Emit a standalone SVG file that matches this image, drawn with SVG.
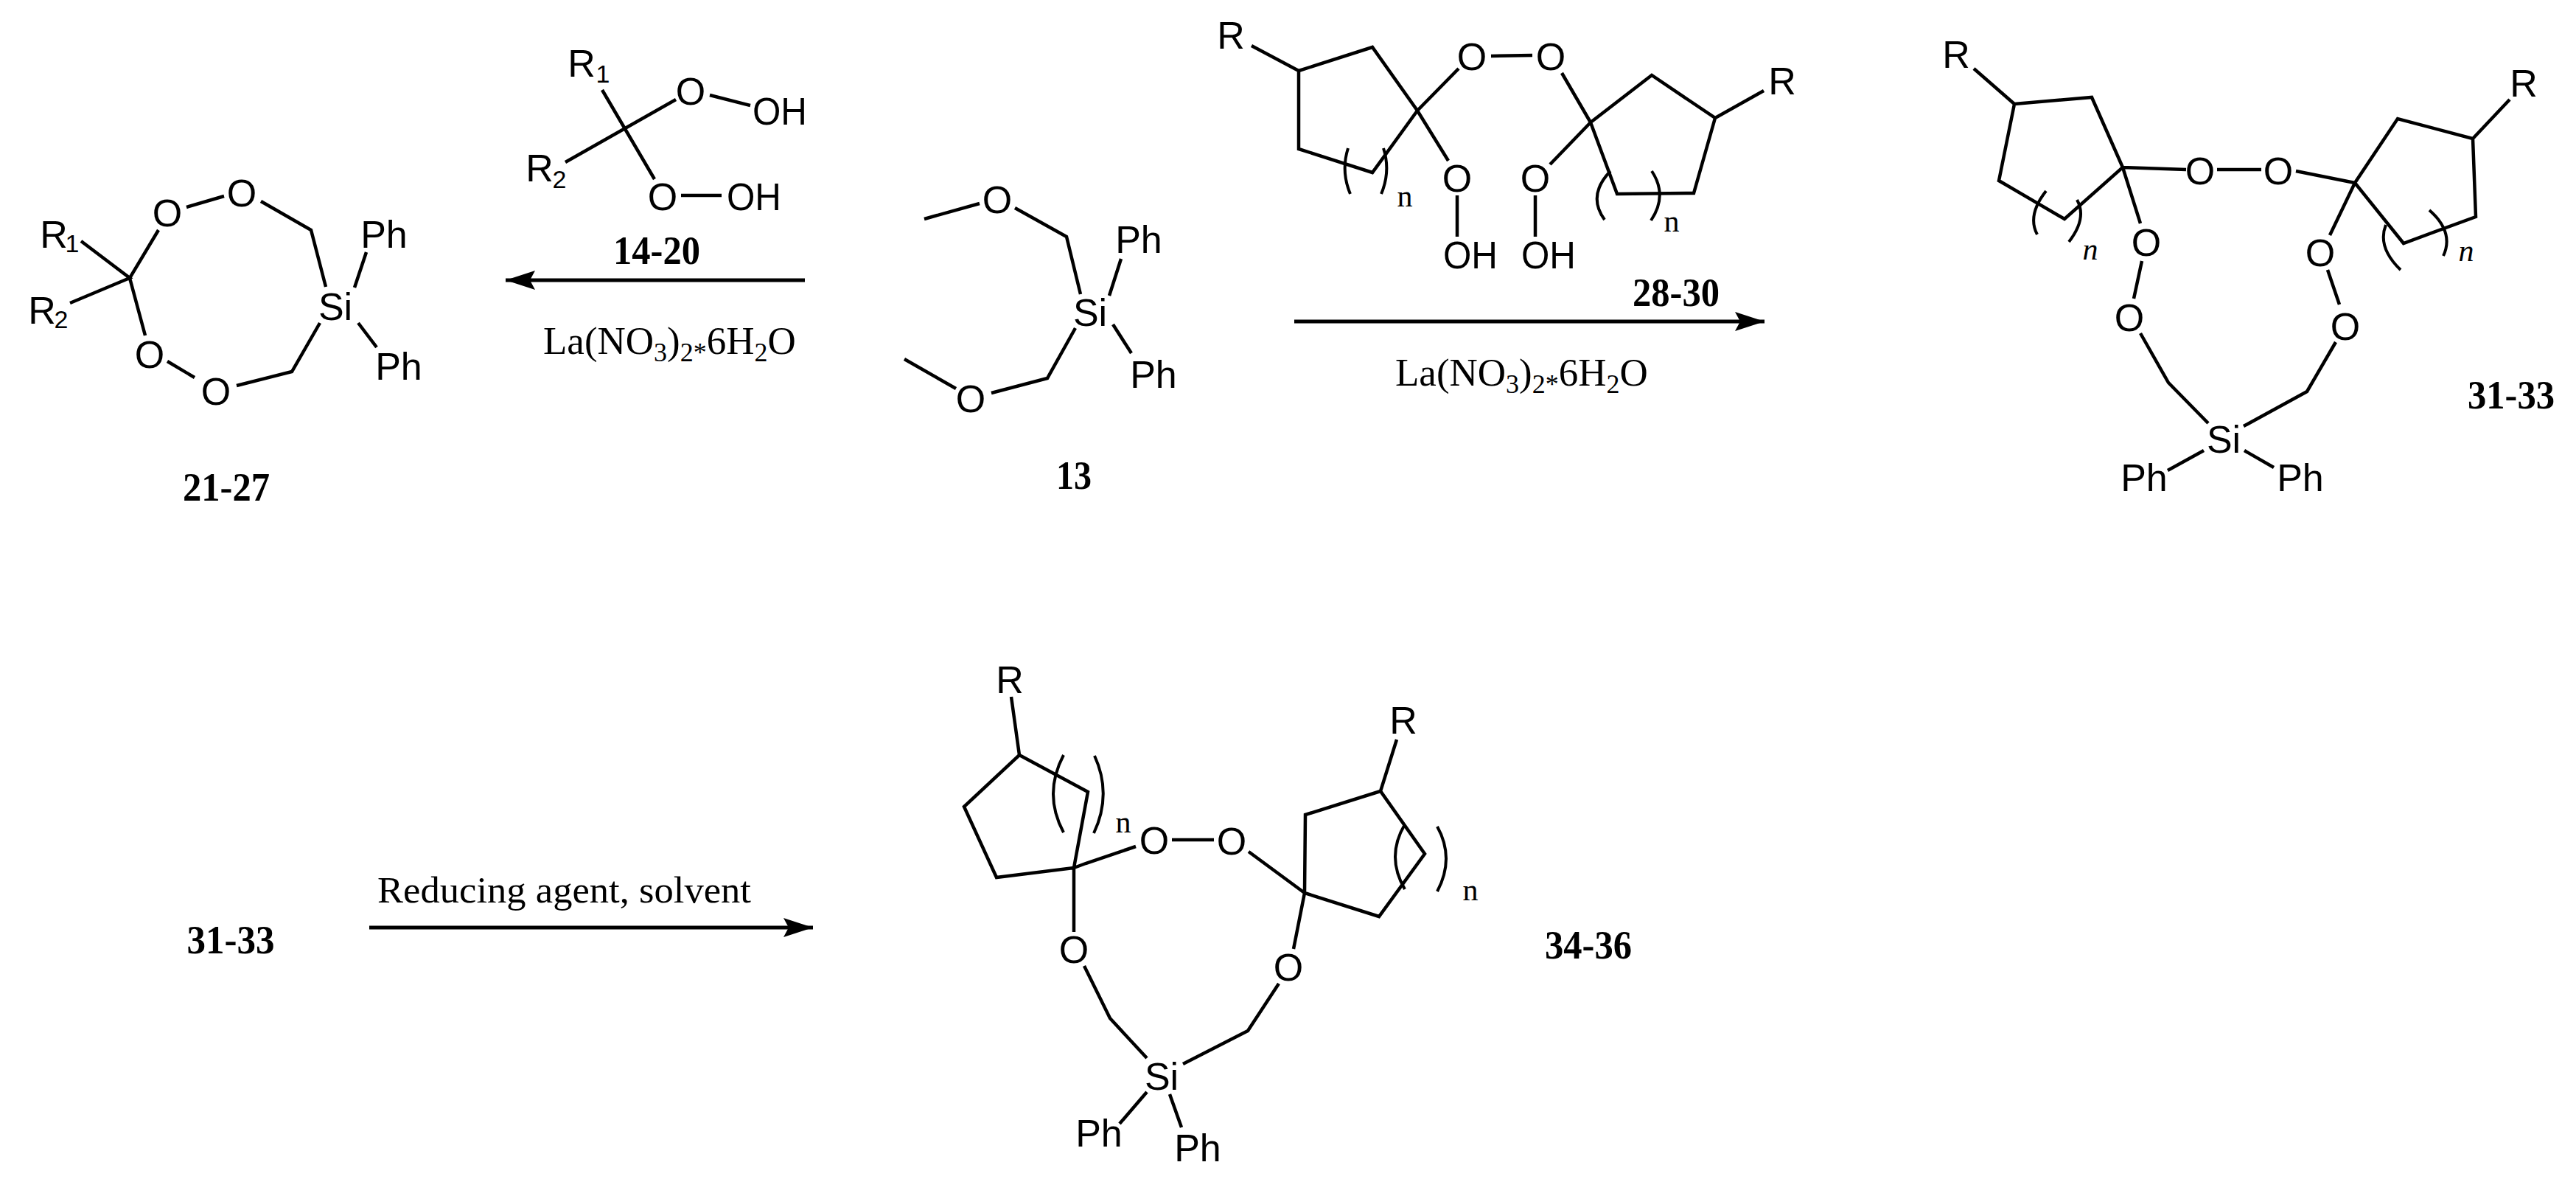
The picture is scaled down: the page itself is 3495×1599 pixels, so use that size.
<svg xmlns="http://www.w3.org/2000/svg" width="3495" height="1599" viewBox="0 0 3495 1599">
<defs><marker id="ah" markerUnits="userSpaceOnUse" markerWidth="42" markerHeight="28" refX="40" refY="13" orient="auto"><path d="M0,0 L40,13 L0,26 L7,13 Z" fill="#000"/></marker></defs>
<style>
.b{fill:none;stroke:#000;stroke-width:4.5;stroke-linejoin:miter;stroke-linecap:butt}
.p{fill:none;stroke:#000;stroke-width:4}
.a{fill:none;stroke:#000;stroke-width:5;marker-end:url(#ah)}
text{fill:#000}
.l{font-family:"Liberation Sans",Arial,sans-serif;font-size:52px;text-anchor:middle}
.s{font-family:"Liberation Sans",Arial,sans-serif;font-size:34px;text-anchor:middle}
.c{font-family:"Liberation Serif","Times New Roman",serif;font-size:54px;font-weight:bold;text-anchor:middle}
.n{font-family:"Liberation Serif","Times New Roman",serif;font-size:42px;text-anchor:middle}
.i{font-style:italic}
.r{font-family:"Liberation Serif","Times New Roman",serif;font-size:53px}
.u{font-size:36px}
</style>
<rect width="3495" height="1599" fill="#fff"/>
<g id="connectors">
<path class="a" d="M1092,380H686"/>
<path class="a" d="M1756,436H2394"/>
<path class="a" d="M501,1258H1103"/>
</g>
<g id="m14-20">
<path class="b" d="M817,122L888,243M767,220L917,135M963,129L1018,143M924,265H979"/>
<text class="l" x="789" y="104">R</text><text class="s" x="818" y="112">1</text>
<text class="l" x="732" y="246">R</text><text class="s" x="759" y="255">2</text>
<text class="l" x="937" y="142">O</text><text class="l" x="899" y="285">O</text>
<text class="l" x="1058" y="169" textLength="74" lengthAdjust="spacingAndGlyphs">OH</text><text class="l" x="1023" y="285" textLength="74" lengthAdjust="spacingAndGlyphs">OH</text>
<text class="c" x="891" y="358" textLength="118" lengthAdjust="spacingAndGlyphs">14-20</text>
</g>
<g id="m21-27">
<path class="b" d="M110,327L176,377L95,411M215,312L176,377L197,455M253,281L304,266M354,273L422,312L442,389M497,342L481,390M486,438L511,471M434,438L396,504L321,523M264,512L227,490"/>
<text class="l" x="73" y="336">R</text><text class="s" x="98" y="342">1</text>
<text class="l" x="57" y="439">R</text><text class="s" x="83" y="445">2</text>
<text class="l" x="227" y="307">O</text><text class="l" x="328" y="280">O</text>
<text class="l" x="293" y="549">O</text><text class="l" x="203" y="499">O</text>
<text class="l" x="455" y="434">Si</text>
<text class="l" x="521" y="336">Ph</text><text class="l" x="541" y="515">Ph</text>
<text class="c" x="307" y="679" textLength="118" lengthAdjust="spacingAndGlyphs">21-27</text>
</g>
<g id="m13">
<path class="b" d="M1254,297L1329,276M1377,282L1447,321L1466,399M1521,351L1505,401M1510,440L1535,479M1459,445L1421,513L1345,533M1297,527L1227,487"/>
<text class="l" x="1353" y="289">O</text><text class="l" x="1317" y="559">O</text>
<text class="l" x="1479" y="442">Si</text>
<text class="l" x="1545" y="343">Ph</text><text class="l" x="1565" y="526">Ph</text>
<text class="c" x="1457" y="663" textLength="48" lengthAdjust="spacingAndGlyphs">13</text>
</g>
<g id="m28-30">
<path class="b" d="M1698,62L1762,96M1762,96L1862,64L1923,150L1862,234L1762,202ZM1923,150L1979,93M2023,76L2079,75M2119,99L2158,166M2158,166L2241,102L2327,160L2298,262L2194,263ZM2327,160L2393,123M1923,150L1965,218M1977,265V321M2158,166L2103,223M2083,265V321"/>
<path class="p" d="M1829,201Q1819,232 1832,263M1877,201Q1887,232 1874,263M2185,232Q2153,265 2177,298M2241,232Q2263,265 2240,299"/>
<text class="l" x="1670" y="66">R</text><text class="l" x="2418" y="128">R</text>
<text class="l" x="1997" y="95">O</text><text class="l" x="2104" y="95">O</text>
<text class="l" x="1977" y="260">O</text><text class="l" x="2083" y="260">O</text>
<text class="l" x="1995" y="364" textLength="74" lengthAdjust="spacingAndGlyphs">OH</text><text class="l" x="2101" y="364" textLength="74" lengthAdjust="spacingAndGlyphs">OH</text>
<text class="n" x="1906" y="280">n</text><text class="n" x="2268" y="314">n</text>
<text class="c" x="2274" y="415" textLength="118" lengthAdjust="spacingAndGlyphs">28-30</text>
</g>
<g id="m31-33">
<path class="b" d="M2678,93L2733,141M2733,141L2838,132L2880,227L2801,297L2712,245ZM2880,227L2966,230M3008,230H3068M3115,232L3195,248M3195,248L3253,161L3355,188L3359,294L3261,330ZM3405,135L3355,188M2880,227L2904,303M2906,354L2895,405M2904,452L2942,519L2996,574M2941,638L2990,611M3045,611L3085,634M3044,578L3130,531L3169,464M3174,413L3158,366M3161,319L3195,248"/>
<path class="p" d="M2776,259Q2750,292 2764,318M2818,271Q2832,296 2807,328M3237,305Q3225,335 3257,366M3296,285Q3330,315 3315,347"/>
<text class="l" x="2654" y="92">R</text><text class="l" x="3424" y="131">R</text>
<text class="l" x="2985" y="250">O</text><text class="l" x="3091" y="250">O</text>
<text class="l" x="2912" y="347">O</text><text class="l" x="2889" y="449">O</text>
<text class="l" x="3182" y="461">O</text><text class="l" x="3148" y="361">O</text>
<text class="l" x="3017" y="614">Si</text>
<text class="l" x="2909" y="666">Ph</text><text class="l" x="3121" y="666">Ph</text>
<text class="n i" x="2836" y="352">n</text><text class="n i" x="3346" y="354">n</text>
<text class="c" x="3407" y="554" textLength="118" lengthAdjust="spacingAndGlyphs">31-33</text>
</g>
<g id="m34-36">
<path class="b" d="M1372,945L1383,1024M1383,1024L1476,1074L1457,1177L1352,1190L1308,1094ZM1457,1177L1473,1171L1541,1148M1590,1139H1647M1694,1155L1770,1211M1770,1211L1771,1105L1873,1073L1933,1158L1871,1243ZM1895,1003L1873,1073M1457,1177V1264M1471,1310L1506,1381L1556,1435M1605,1443L1693,1398L1735,1334M1755,1287L1770,1211M1556,1481L1519,1524M1587,1484L1603,1529"/>
<path class="p" d="M1443,1024Q1415,1077 1443,1129M1485,1025Q1509,1077 1484,1130M1906,1118Q1880,1162 1906,1206M1950,1121Q1974,1164 1950,1209"/>
<text class="l" x="1370" y="940">R</text><text class="l" x="1904" y="995">R</text>
<text class="l" x="1566" y="1158">O</text><text class="l" x="1671" y="1159">O</text>
<text class="l" x="1457" y="1306">O</text><text class="l" x="1748" y="1330">O</text>
<text class="l" x="1576" y="1478">Si</text>
<text class="l" x="1491" y="1555">Ph</text><text class="l" x="1625" y="1575">Ph</text>
<text class="n" x="1524" y="1129">n</text><text class="n" x="1995" y="1221">n</text>
<text class="c" x="2155" y="1300" textLength="118" lengthAdjust="spacingAndGlyphs">34-36</text>
</g>
<g id="reagents">
<text class="r" x="737" y="480">La(NO<tspan class="u" dy="10">3</tspan><tspan dy="-10">)</tspan><tspan class="u" dy="10">2*</tspan><tspan dy="-10">6H</tspan><tspan class="u" dy="10">2</tspan><tspan dy="-10">O</tspan></text>
<text class="r" x="1893" y="523">La(NO<tspan class="u" dy="10">3</tspan><tspan dy="-10">)</tspan><tspan class="u" dy="10">2*</tspan><tspan dy="-10">6H</tspan><tspan class="u" dy="10">2</tspan><tspan dy="-10">O</tspan></text>
<text class="r" x="512" y="1224" font-size="50" style="font-size:50px" textLength="507" lengthAdjust="spacingAndGlyphs">Reducing agent, solvent</text>
<text class="c" x="313" y="1293" textLength="119" lengthAdjust="spacingAndGlyphs">31-33</text>
</g>
</svg>
